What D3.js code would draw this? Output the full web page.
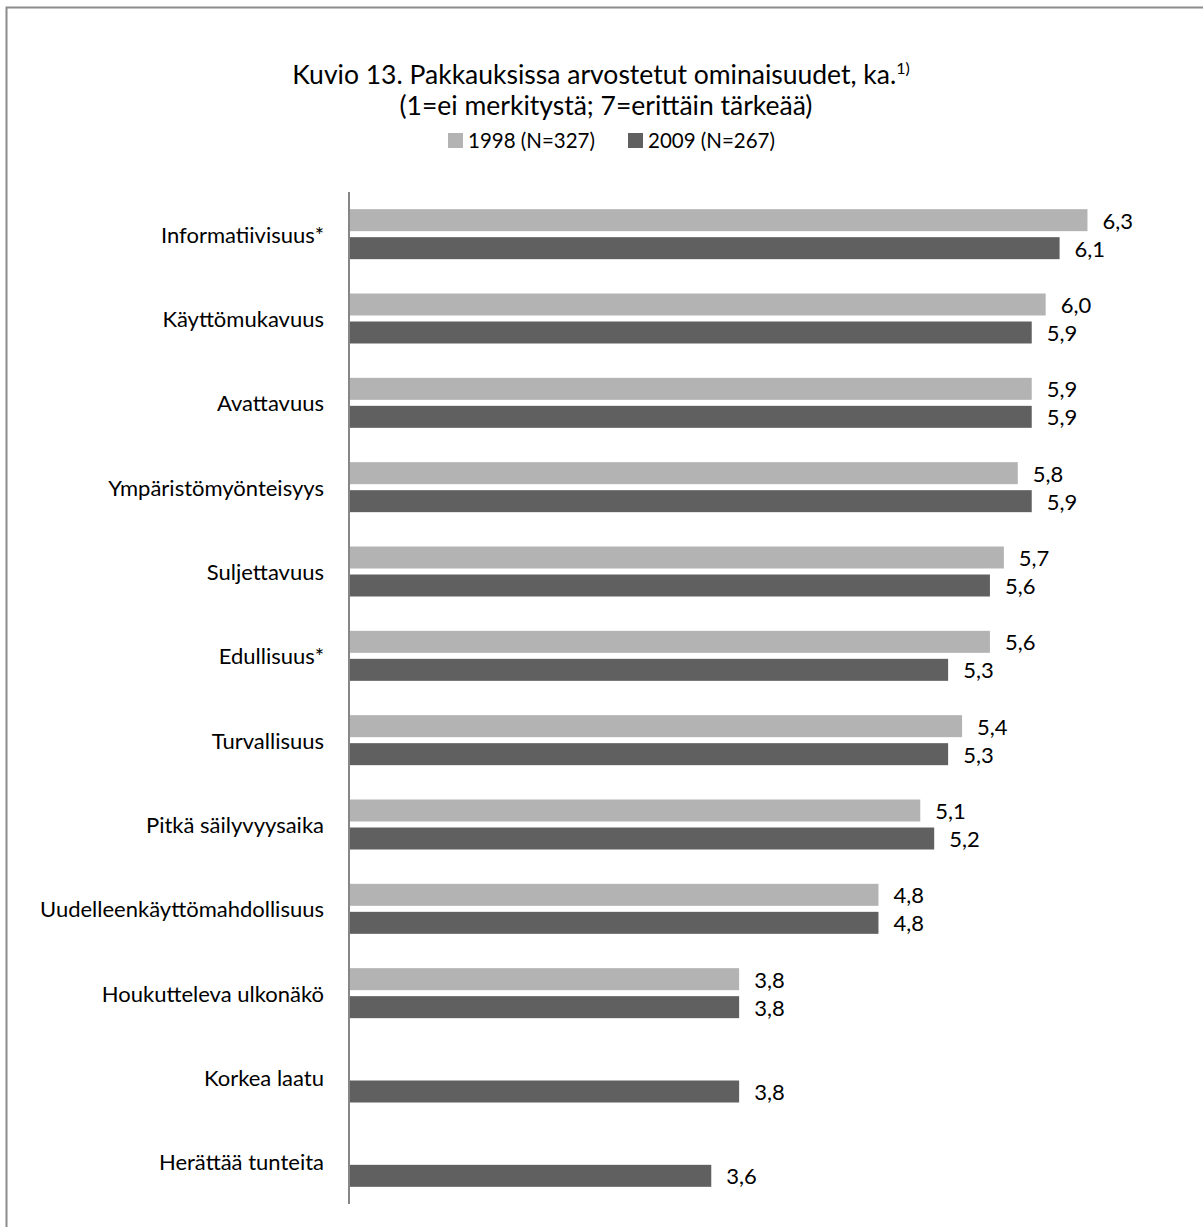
<!DOCTYPE html>
<html>
<head>
<meta charset="utf-8">
<script src="https://d3js.org/d3.v7.min.js"></script>
<style>
    body { margin: 0; background: #fff; }
    svg text { font-family: Lato, "Open Sans", sans-serif; fill: #000; }
</style>
</head>
<body>
<svg id="chart" width="1203" height="1227"></svg>
<script>
let categories = ['Informatiivisuus*', 'Käyttömukavuus', 'Avattavuus', 'Ympäristömyönteisyys', 'Suljettavuus',
    'Edullisuus*', 'Turvallisuus', 'Pitkä säilyvyysaika', 'Uudelleenkäyttömahdollisuus',
    'Houkutteleva ulkonäkö', 'Korkea laatu', 'Herättää tunteita']
let values1998 = [6.3, 6.0, 5.9, 5.8, 5.7, 5.6, 5.4, 5.1, 4.8, 3.8, null, null]
let values2009 = [6.1, 5.9, 5.9, 5.9, 5.6, 5.3, 5.3, 5.2, 4.8, 3.8, 3.8, 3.6]
let seriesNames = ['1998 (N=327)', '2009 (N=267)']
let colors = ['#b3b3b3', '#606060']

let svg = d3.select('#chart')
let margin = {top: 192, left: 349, right: 18, bottom: 23}
let width = +svg.attr('width')
let height = +svg.attr('height')

// outer frame (cut off at right/bottom like the original)
svg.append('rect')
    .attr('x', 6.5).attr('y', 7.5)
    .attr('width', 1210).attr('height', 1230)
    .attr('fill', 'none')
    .attr('stroke', '#8c8c8c')
    .attr('stroke-width', 2)

// title
let title = svg.append('text')
    .attr('x', 601).attr('y', 84)
    .attr('text-anchor', 'middle')
    .style('font-size', '26.5px')
title.append('tspan').text('Kuvio 13. Pakkauksissa arvostetut ominaisuudet, ka.')
title.append('tspan').text('1)').attr('dy', -10).style('font-size', '16px')
svg.append('text')
    .attr('x', 606).attr('y', 115)
    .attr('text-anchor', 'middle')
    .style('font-size', '26.5px')
    .text('(1=ei merkitystä; 7=erittäin tärkeää)')

// legend
let legendX = [448, 628]
seriesNames.forEach(function (name, i) {
    svg.append('rect')
        .attr('x', legendX[i]).attr('y', 133)
        .attr('width', 15).attr('height', 15)
        .attr('fill', colors[i])
    svg.append('text')
        .attr('x', legendX[i] + 20).attr('y', 148)
        .style('font-size', '20.5px')
        .text(name)
})

let x = d3.scaleLinear()
    .domain([1, 7])
    .range([margin.left, width - margin.right])

let y = d3.scaleBand()
    .domain(categories)
    .range([margin.top, height - margin.bottom])

let barH = 22
let gap = 6

let data = categories.map(function (c, i) {
    return {cat: c, v: [values1998[i], values2009[i]]}
})

let groups = svg.selectAll('.cat')
    .data(data)
    .enter()
    .append('g')
    .attr('transform', function (d) { return 'translate(0,' + (y(d.cat) + y.bandwidth() / 2) + ')' })

// category labels
groups.append('text')
    .attr('x', 324)
    .attr('y', 0)
    .attr('text-anchor', 'end')
    .attr('dominant-baseline', 'central')
    .style('font-size', '22px')
    .text(function (d) { return d.cat })

;[0, 1].forEach(function (s) {
    let off = s === 0 ? -gap / 2 - barH : gap / 2
    let g = groups.filter(function (d) { return d.v[s] != null })
    g.append('rect')
        .attr('x', x(1))
        .attr('y', off)
        .attr('width', function (d) { return x(d.v[s]) - x(1) })
        .attr('height', barH)
        .attr('fill', colors[s])
    g.append('text')
        .attr('x', function (d) { return x(d.v[s]) + 15 })
        .attr('y', off + barH / 2)
        .attr('dominant-baseline', 'central')
        .style('font-size', '22px')
        .text(function (d) { return d3.format('.1f')(d.v[s]).replace('.', ',') })
})

// vertical axis line
svg.append('line')
    .attr('x1', x(1)).attr('x2', x(1))
    .attr('y1', margin.top).attr('y2', height - margin.bottom)
    .attr('stroke', '#868686')
    .attr('stroke-width', 2)
</script>
</body>
</html>
